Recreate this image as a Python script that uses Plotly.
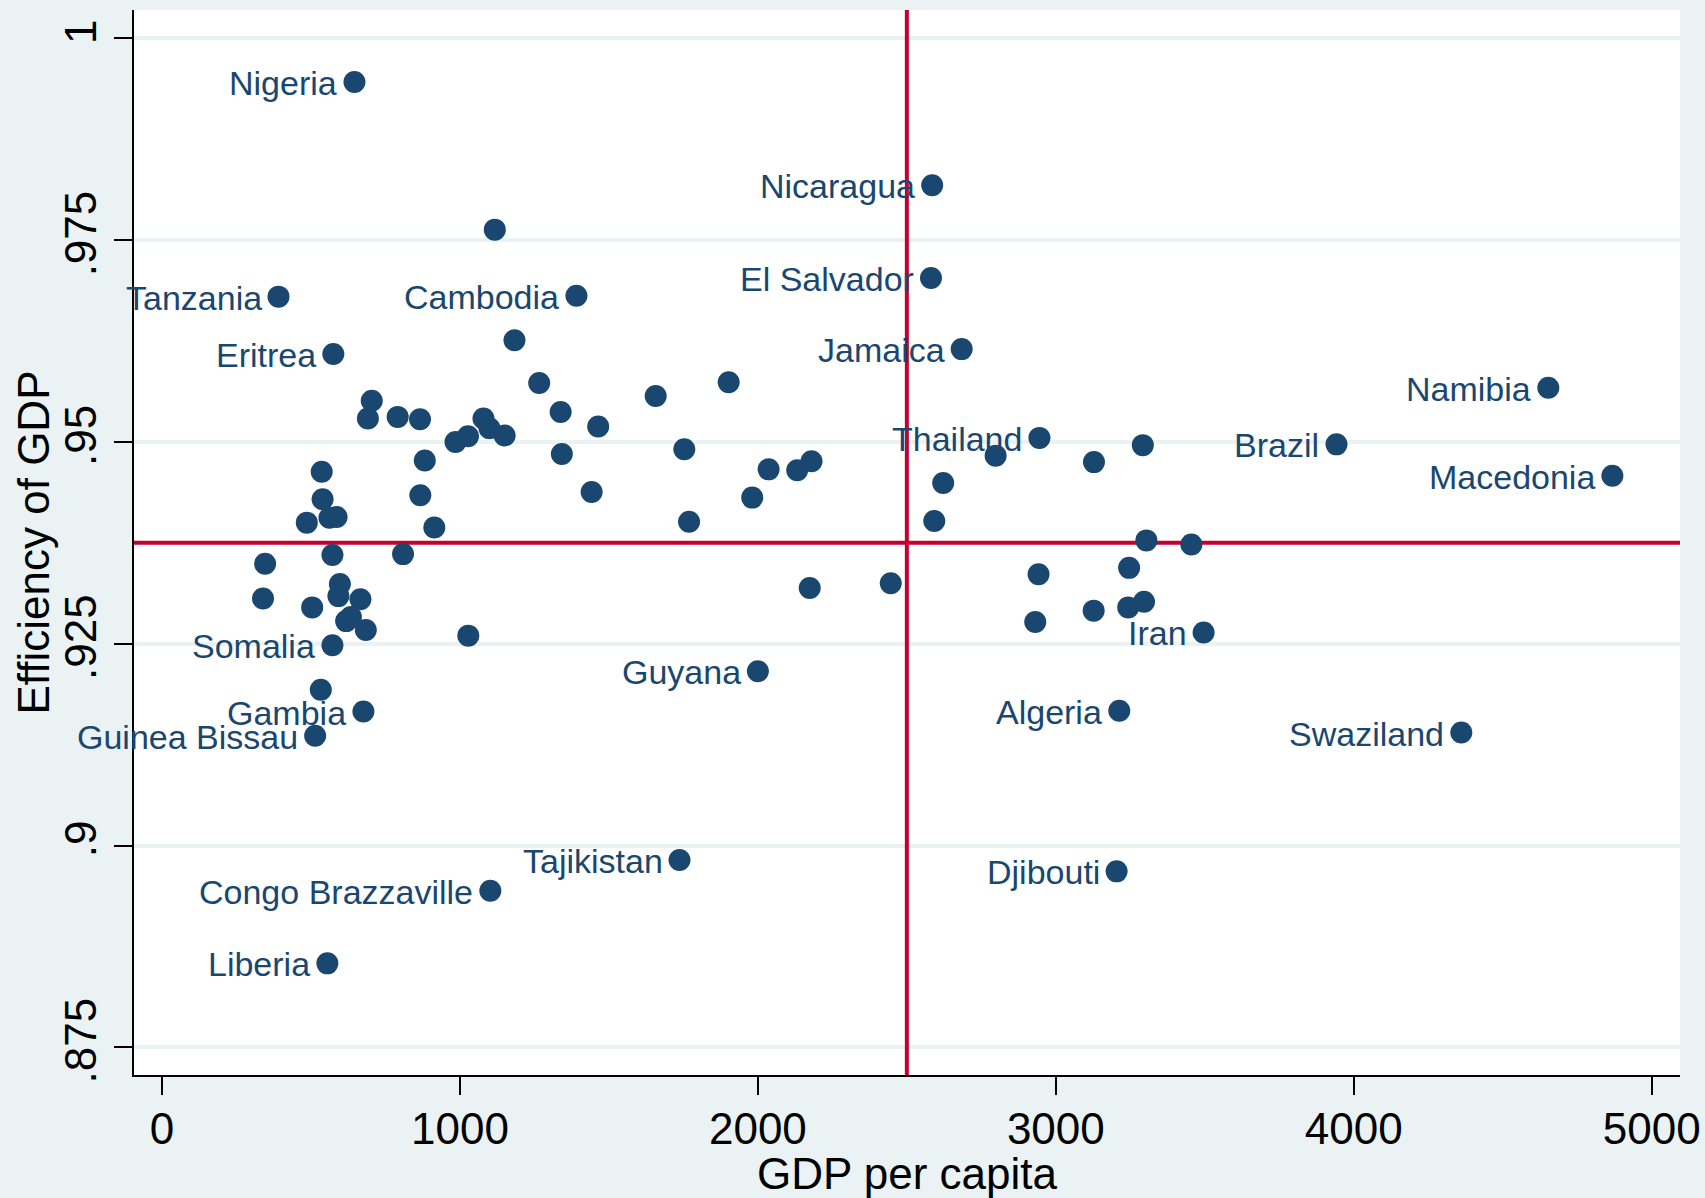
import plotly.graph_objects as go

# ---- data ----
labeled_names = ["Nigeria", "Nicaragua", "El Salvador", "Tanzania", "Cambodia", "Eritrea",
                 "Jamaica", "Namibia", "Thailand", "Brazil", "Macedonia", "Iran", "Somalia",
                 "Guyana", "Gambia", "Algeria", "Guinea Bissau", "Swaziland", "Tajikistan",
                 "Djibouti", "Congo Brazzaville", "Liberia"]
labeled_gdp = [646, 2585, 2581, 391, 1391, 575, 2684, 4653, 2945, 3942, 4868, 3496, 572,
               2000, 676, 3213, 514, 4361, 1737, 3204, 1102, 555]
labeled_eff = [0.9946, 0.9818, 0.9703, 0.9680, 0.9681, 0.9609, 0.9615, 0.9567, 0.9505,
               0.9497, 0.9458, 0.9264, 0.9248, 0.9216, 0.9166, 0.9167, 0.9136, 0.9140,
               0.8982, 0.8968, 0.8944, 0.8854]

other_gdp = [1117, 1183, 1266, 1338, 1464, 1657, 1753, 1769, 704, 691, 791, 866, 1079, 1099,
             1150, 1027, 985, 882, 1342, 1442, 867, 914, 536, 539, 562, 586, 486, 572, 809,
             346, 339, 504, 597, 592, 666, 634, 618, 684, 1028, 533, 1902, 2036, 1981, 2132,
             2180, 2174, 2446, 2798, 2622, 2592, 3128, 3292, 3304, 3455, 2942, 2931, 3127,
             3246, 3243, 3296]
other_eff = [0.9763, 0.9626, 0.9573, 0.9537, 0.9519, 0.9557, 0.9491, 0.9401, 0.9551, 0.9529,
             0.9531, 0.9528, 0.9529, 0.9517, 0.9508, 0.9507, 0.9500, 0.9477, 0.9485, 0.9438,
             0.9434, 0.9394, 0.9463, 0.9429, 0.9406, 0.9407, 0.9400, 0.9360, 0.9361, 0.9349,
             0.9306, 0.9295, 0.9324, 0.9309, 0.9305, 0.9283, 0.9278, 0.9267, 0.9260, 0.9193,
             0.9574, 0.9466, 0.9431, 0.9465, 0.9476, 0.9319, 0.9325, 0.9483, 0.9449, 0.9402,
             0.9475, 0.9496, 0.9378, 0.9373, 0.9336, 0.9277, 0.9291, 0.9344, 0.9295, 0.9302]

x_ticks = [0, 1000, 2000, 3000, 4000, 5000]
y_ticks = [0.875, 0.9, 0.925, 0.95, 0.975, 1.0]
y_tick_text = [".875", ".9", ".925", ".95", ".975", "1"]

x_title = "GDP per capita"
y_title = "Efficiency of GDP"

x_ref_line = 2500
y_ref_line = 0.9375

x_range = [-94, 5095]
y_range = [0.87157, 1.00351]

# ---- styles ----
NAVY = "#1a476f"
RED = "#c4002f"
BG = "#eaf2f3"
FONT = "Arial, 'Liberation Sans', Helvetica, sans-serif"
MSIZE = 22

fig = go.Figure()

# reference lines
fig.add_trace(go.Scatter(x=[x_ref_line, x_ref_line], y=y_range, mode="lines",
                         line=dict(color=RED, width=4), showlegend=False, hoverinfo="skip"))
fig.add_trace(go.Scatter(x=x_range, y=[y_ref_line, y_ref_line], mode="lines",
                         line=dict(color=RED, width=4), showlegend=False, hoverinfo="skip"))

# markers
fig.add_trace(go.Scatter(
    x=labeled_gdp + other_gdp, y=labeled_eff + other_eff, mode="markers",
    marker=dict(size=MSIZE, color=NAVY, line=dict(width=0)),
    showlegend=False))

# point labels, to the left of their markers
annotations = [
    dict(x=gx, y=ey, xref="x", yref="y", text=name, showarrow=False,
         xanchor="right", yanchor="middle", xshift=-15, yshift=-1,
         font=dict(family=FONT, size=34, color=NAVY))
    for name, gx, ey in zip(labeled_names, labeled_gdp, labeled_eff)
]
annotations.append(dict(
    text=y_title, xref="paper", yref="paper", x=0, y=0.5,
    xanchor="center", yanchor="middle", xshift=-101, textangle=-90,
    showarrow=False, font=dict(family=FONT, size=44, color="black")))

fig.update_layout(
    width=1705, height=1198,
    margin=dict(l=134, r=25, t=10, b=123),
    paper_bgcolor=BG, plot_bgcolor="white",
    font=dict(family=FONT, color="black"),
    showlegend=False,
    annotations=annotations,
)

fig.update_xaxes(
    range=x_range, tickvals=x_ticks, ticktext=[str(v) for v in x_ticks],
    showgrid=False, zeroline=False,
    showline=True, linecolor="black", linewidth=2,
    ticks="outside", ticklen=18, tickwidth=2, tickcolor="black",
    tickfont=dict(family=FONT, size=44, color="black"),
    ticklabelstandoff=-4,
    title=dict(text=x_title, font=dict(family=FONT, size=44, color="black"), standoff=19),
    automargin=False,
)
fig.update_yaxes(
    range=y_range, tickvals=y_ticks, ticktext=y_tick_text, tickangle=-90,
    showgrid=True, gridcolor=BG, gridwidth=4, zeroline=False,
    showline=True, linecolor="black", linewidth=2,
    ticks="outside", ticklen=18, tickwidth=2, tickcolor="black",
    tickfont=dict(family=FONT, size=44, color="black"),
    ticklabelstandoff=0,
    automargin=False,
)

fig.write_html(
    "out.html",
    config={"displayModeBar": False},
    post_script="document.body.style.margin='0';document.body.style.background='#eaf2f3';",
)
